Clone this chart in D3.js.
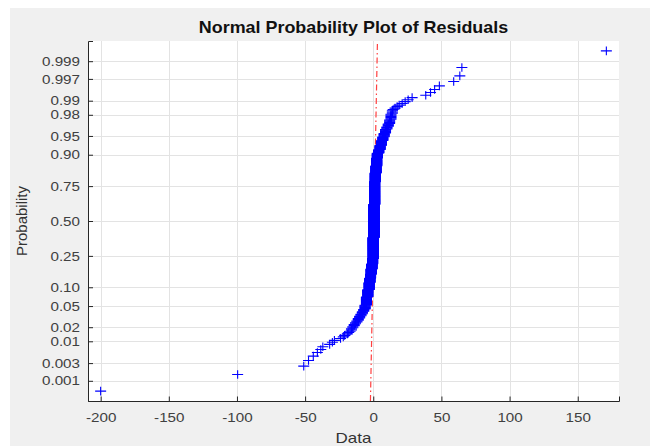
<!DOCTYPE html>
<html>
<head>
<meta charset="utf-8">
<script src="https://cdn.jsdelivr.net/npm/d3@7"></script>
<style>
  body{margin:0;background:#fff;}
  svg text{font-family:Arial,'Liberation Sans',Helvetica,sans-serif;}
</style>
</head>
<body>
<script>
const width=662;
const height=446;
const margin={top:41,bot:45,left:88,right:43};

// sorted residuals: lower tail, body (value + how many points), upper tail
const lowerTail=[-200,-99.5,-51,-47.5,-44,-41,-38.5,-37,-32,-30,-28.5,-24,-22,-21,-19];
const bodyValues=[-18,-17,-16,-15,-14,-13,-12,-11,-10,-9,-8,-7,-6,-5,-4,-3,-2.5,-2,-1.5,-1,-0.5,0,0.5,1,1.5,2,2.5,3,4,5,6,7,8,9,10,11,12,13,14];
const bodyCounts=[1,1,2,2,2,2,2,3,3,3,4,4,8,19,21,25,17,18,25,26,31,141,250,151,47,33,32,17,11,12,12,8,7,7,4,4,5,6,3];
const upperTail=[14.6,16,17.5,19,21.2,23.4,25.6,28.5,38.5,42,45,48.5,59,63.5,65,171];

const xTicks=[-200,-150,-100,-50,0,50,100,150];
const probTicks=[0.001,0.003,0.01,0.02,0.05,0.10,0.25,0.50,0.75,0.90,0.95,0.98,0.99,0.997,0.999];
const probLabels=['0.001','0.003','0.01','0.02','0.05','0.10','0.25','0.50','0.75','0.90','0.95','0.98','0.99','0.997','0.999'];

const stretch=1.17; // the reference is a bit wider than tall

// inverse normal cdf (Acklam)
function probit(p){
  const a=[-3.969683028665376e+01,2.209460984245205e+02,-2.759285104469687e+02,1.383577518672690e+02,-3.066479806614716e+01,2.506628277459239e+00];
  const b=[-5.447609879822406e+01,1.615858368580409e+02,-1.556989798598866e+02,6.680131188771972e+01,-1.328068155288572e+01];
  const c=[-7.784894002430293e-03,-3.223964580411365e-01,-2.400758277161838e+00,-2.549732539343734e+00,4.374664141464968e+00,2.938163982698783e+00];
  const d=[7.784695709041462e-03,3.224671290700398e-01,2.445134137142996e+00,3.754408661907416e+00];
  const pl=0.02425;
  let q,r;
  if(p<pl){
    q=Math.sqrt(-2*Math.log(p));
    return (((((c[0]*q+c[1])*q+c[2])*q+c[3])*q+c[4])*q+c[5])/((((d[0]*q+d[1])*q+d[2])*q+d[3])*q+1);
  }
  if(p>1-pl){
    q=Math.sqrt(-2*Math.log(1-p));
    return -(((((c[0]*q+c[1])*q+c[2])*q+c[3])*q+c[4])*q+c[5])/((((d[0]*q+d[1])*q+d[2])*q+d[3])*q+1);
  }
  q=p-0.5;r=q*q;
  return (((((a[0]*r+a[1])*r+a[2])*r+a[3])*r+a[4])*r+a[5])*q/(((((b[0]*r+b[1])*r+b[2])*r+b[3])*r+b[4])*r+1);
}

let residuals=lowerTail.slice();
bodyValues.forEach((v,i)=>{for(let k=0;k<bodyCounts[i];k++) residuals.push(v);});
residuals=residuals.concat(upperTail).sort((a,b)=>a-b);
const n=residuals.length;
const points=residuals.map((v,i)=>({x:v,z:probit((i+0.5)/n)}));

const xmin=d3.min(residuals), xmax=d3.max(residuals), pad=0.025*(xmax-xmin);
const xScale=d3.scaleLinear().domain([xmin-pad,xmax+pad]).range([margin.left,width-margin.right]);
const zlim=probit(0.25/n);
const yScale=d3.scaleLinear().domain([zlim,-zlim]).range([height-margin.bot,margin.top]);

const svg=d3.select('body').append('svg').attr('width',width).attr('height',height);

svg.append('rect').attr('x',10).attr('y',8).attr('width',640).attr('height',height-8).attr('fill','#f0f0f0');
svg.append('rect').attr('x',margin.left).attr('y',margin.top)
  .attr('width',width-margin.right-margin.left).attr('height',height-margin.bot-margin.top).attr('fill','#fff');

// grid
const grid=svg.append('g').attr('stroke','#e3e3e3').attr('stroke-width',1);
grid.selectAll('.gx').data(xTicks).enter().append('line')
  .attr('x1',d=>Math.round(xScale(d))+0.5).attr('x2',d=>Math.round(xScale(d))+0.5)
  .attr('y1',margin.top).attr('y2',height-margin.bot);
grid.selectAll('.gy').data(probTicks).enter().append('line')
  .attr('y1',d=>Math.round(yScale(probit(d)))+0.5).attr('y2',d=>Math.round(yScale(probit(d)))+0.5)
  .attr('x1',margin.left).attr('x2',width-margin.right);

// axes
const xAxis=d3.axisBottom(xScale).tickValues(xTicks).tickFormat(d=>String(d)).tickSize(-4.5).tickPadding(0);
const gx=svg.append('g').attr('transform',`translate(0,${height-margin.bot})`).call(xAxis);
gx.select('.domain').attr('stroke','#262626');
gx.selectAll('.tick line').attr('stroke','#262626');
gx.selectAll('.tick text').attr('font-size',13).attr('fill','#404040').attr('dy',null).attr('y',21)
  .attr('transform',`scale(${stretch},1)`).attr('x',0);

const yAxis=d3.axisLeft(yScale).tickValues(probTicks.map(probit)).tickFormat((d,i)=>probLabels[i]).tickSize(-5).tickPadding(8);
const gy=svg.append('g').attr('transform',`translate(${margin.left},0)`).call(yAxis);
gy.select('.domain').attr('stroke','#262626');
gy.selectAll('.tick line').attr('stroke','#262626');
gy.selectAll('.tick text').attr('font-size',13).attr('fill','#404040')
  .attr('x',-8/stretch).attr('transform',`scale(${stretch},1)`);

// reference line through the quartiles
const q1=d3.quantile(residuals,0.25), q3=d3.quantile(residuals,0.75);
const z1=probit(0.25), z3=probit(0.75);
const lineX=z=>q1+(z-z1)*(q3-q1)/(z3-z1);
svg.append('line')
  .attr('x1',xScale(lineX(zlim))).attr('y1',yScale(zlim))
  .attr('x2',xScale(lineX(-zlim))).attr('y2',yScale(-zlim))
  .attr('stroke','#ff4040').attr('stroke-width',1.2).attr('stroke-dasharray','6,3,1.5,3');
svg.append('line')
  .attr('x1',xScale(q1)).attr('y1',yScale(z1))
  .attr('x2',xScale(q3)).attr('y2',yScale(z3))
  .attr('stroke','#ff4040').attr('stroke-width',1.2);

// '+' markers
const hw=5.5, hh=4.3;
svg.append('g').selectAll('path').data(points).enter().append('path')
  .attr('d',d=>{
    const cx=xScale(d.x), cy=yScale(d.z);
    return `M${cx-hw},${cy}H${cx+hw}M${cx},${cy-hh}V${cy+hh}`;
  })
  .attr('stroke','#0000ff').attr('stroke-width',1.1).attr('fill','none');

// labels
svg.append('text').text('Normal Probability Plot of Residuals')
  .attr('transform',`translate(${(margin.left+width-margin.right)/2},33) scale(1.12,1)`)
  .attr('text-anchor','middle').attr('font-size',16).attr('font-weight','bold').attr('fill','#111');
svg.append('text').text('Data')
  .attr('transform',`translate(${(margin.left+width-margin.right)/2},443) scale(${stretch},1)`)
  .attr('text-anchor','middle').attr('font-size',14.5).attr('fill','#333');
svg.append('text').text('Probability')
  .attr('transform',`translate(27,${(margin.top+height-margin.bot)/2}) rotate(-90)`)
  .attr('text-anchor','middle').attr('font-size',15).attr('fill','#333');
</script>
</body>
</html>
